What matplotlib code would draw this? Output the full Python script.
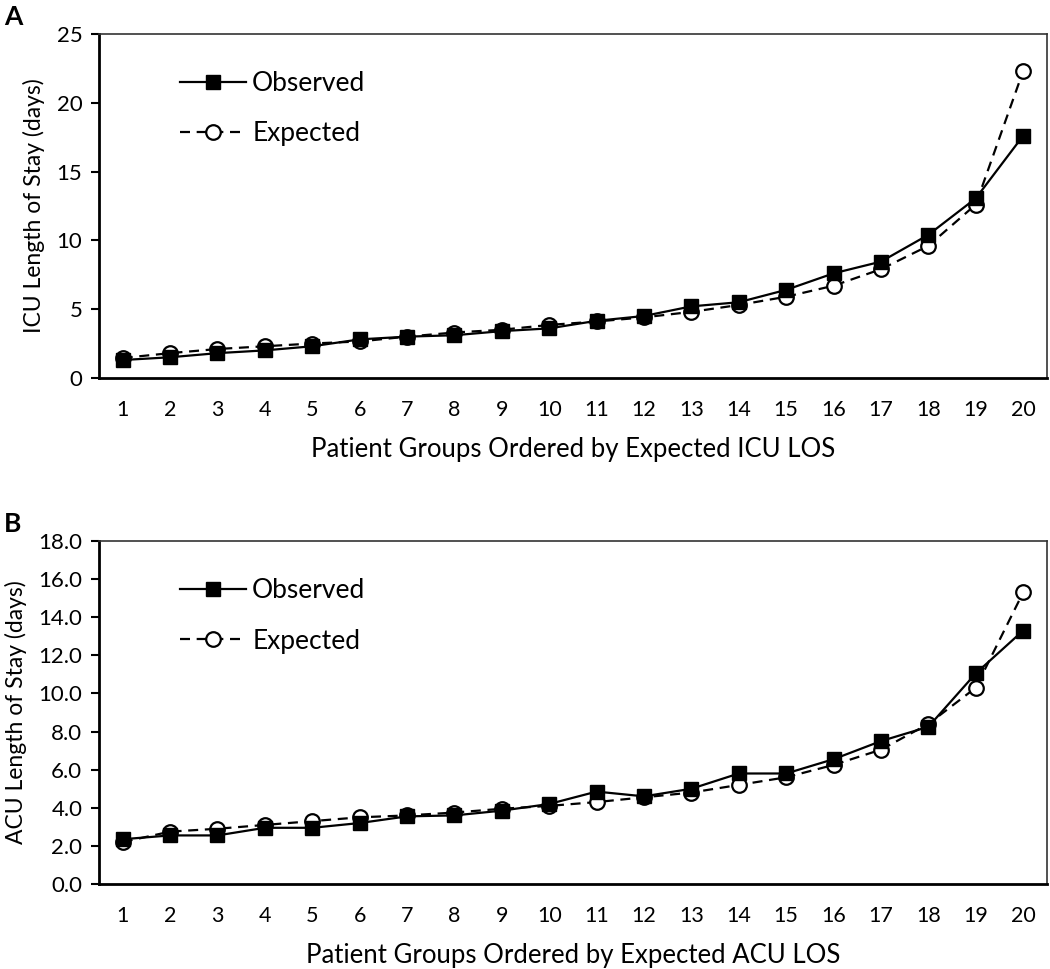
import numpy as np
import matplotlib.pyplot as plt
from matplotlib.ticker import FormatStrFormatter

plt.rcParams['font.family'] = ['Lato', 'DejaVu Sans']

# ================= data =================
groups = np.arange(1, 21)

icu_observed = [1.3, 1.5, 1.8, 2.0, 2.3, 2.8, 3.0, 3.1, 3.4, 3.6,
                4.15, 4.5, 5.2, 5.5, 6.4, 7.6, 8.45, 10.4, 13.05, 17.6]
icu_expected = [1.45, 1.8, 2.1, 2.3, 2.5, 2.65, 3.0, 3.3, 3.5, 3.85,
                4.1, 4.4, 4.8, 5.3, 5.9, 6.7, 7.9, 9.6, 12.6, 22.3]

acu_observed = [2.35, 2.55, 2.55, 2.95, 2.95, 3.2, 3.55, 3.6, 3.85, 4.2,
                4.85, 4.6, 5.0, 5.8, 5.8, 6.55, 7.5, 8.25, 11.05, 13.3]
acu_expected = [2.2, 2.75, 2.9, 3.1, 3.3, 3.5, 3.6, 3.75, 3.95, 4.1,
                4.3, 4.55, 4.8, 5.2, 5.6, 6.25, 7.05, 8.4, 10.3, 15.3]

panels = [
    ("A", icu_observed, icu_expected, "ICU Length of Stay (days)",
     "Patient Groups Ordered by Expected ICU LOS", 25, 5, "%d"),
    ("B", acu_observed, acu_expected, "ACU Length of Stay (days)",
     "Patient Groups Ordered by Expected ACU LOS", 18, 2, "%.1f"),
]

# ================= plot =================
fig = plt.figure(figsize=(10.5, 9.69), dpi=100)
ax_rects = [[0.0943, 0.610, 0.9027, 0.355],
            [0.0943, 0.0877, 0.9027, 0.354]]

for rect, (tag, obs, exp, ylab, xlab, ymax, ystep, fmt) in zip(ax_rects, panels):
    ax = fig.add_axes(rect)
    ax.plot(groups, exp, color="black", linestyle=(0, (4.5, 3)), linewidth=1.6,
            marker="o", markersize=10.5, markerfacecolor="white",
            markeredgecolor="black", markeredgewidth=1.6, label="Expected", zorder=3)
    ax.plot(groups, obs, color="black", linestyle="-", linewidth=1.6,
            marker="s", markersize=10, markerfacecolor="black",
            markeredgecolor="black", label="Observed", zorder=4)

    ax.set_xlim(0.5, 20.5)
    ax.set_ylim(0, ymax)
    ax.set_xticks(groups)
    ax.set_yticks(np.arange(0, ymax + 0.01, ystep))
    ax.yaxis.set_major_formatter(FormatStrFormatter(fmt))
    ax.tick_params(axis="x", length=0, pad=16, labelsize=15.5)
    ax.tick_params(axis="y", direction="out", length=6, width=1.5,
                   pad=6, labelsize=16)
    for side in ["top", "right"]:
        ax.spines[side].set_linewidth(1.2)
        ax.spines[side].set_color("#333333")
    for side in ["left", "bottom"]:
        ax.spines[side].set_linewidth(2.0)

    ax.set_ylabel(ylab, fontsize=16.5, labelpad=8)
    ax.set_xlabel(xlab, fontsize=18.5, labelpad=12)

    handles, labels = ax.get_legend_handles_labels()
    ax.legend(handles[::-1], labels[::-1], loc="upper left",
              bbox_to_anchor=(0.06, 0.96), frameon=False, fontsize=19,
              handlelength=2.5, labelspacing=0.95, handletextpad=0.25)

    fig.text(0.004, rect[1] + rect[3] + 0.03, tag, fontsize=19,
             fontweight="bold", va="top", ha="left")

fig.savefig("out.png", dpi=100)
